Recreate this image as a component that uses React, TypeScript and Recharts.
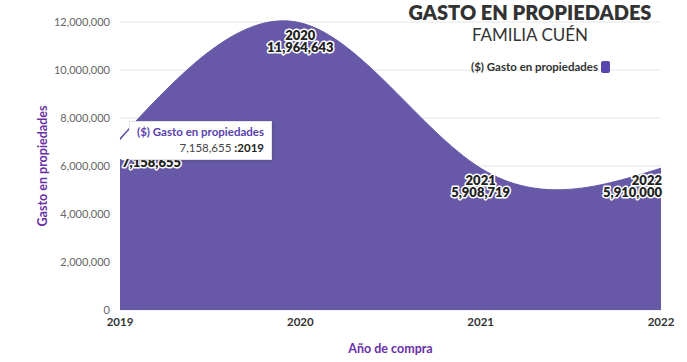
import React from 'react';
import { AreaChart, Area, XAxis, YAxis, CartesianGrid, Tooltip, LabelList } from 'recharts';

const years = ['2019', '2020', '2021', '2022'];
const spending = [7158655, 11964643, 5908719, 5910000];
const yTicks = [0, 2000000, 4000000, 6000000, 8000000, 10000000, 12000000];

const seriesName = '($) Gasto en propiedades';
const FONT = 'Lato, "Open Sans", sans-serif';
const AREA = '#6759a8';
const PURPLE = '#6a2fa6';

const data = years.map((year, i) => ({ year, gasto: spending[i] }));

const fmt = (v: number) => v.toLocaleString('en-US');

const PointLabel = (props: any) => {
  const { x, y, index } = props;
  const last = data.length - 1;
  let anchor: 'start' | 'middle' | 'end' = 'middle';
  let tx = x;
  if (index === 0) {
    anchor = 'start';
    tx = x + 2;
  } else if (index === last) {
    anchor = 'end';
    tx = x + 1;
  }
  const common = {
    textAnchor: anchor,
    fontFamily: FONT,
    fontWeight: 800,
    fontSize: 13,
    fill: '#222',
    stroke: '#fff',
    strokeWidth: 3,
    strokeLinejoin: 'round' as const,
    paintOrder: 'stroke',
  };
  return (
    <g>
      <text x={tx} y={y + 17} {...common}>{data[index].year}</text>
      <text x={tx} y={y + 29} {...common}>{fmt(data[index].gasto)}</text>
    </g>
  );
};

const TipBox = (props: any) => {
  const p = props.payload && props.payload.length ? props.payload[0].payload : data[0];
  return (
    <div style={{ position: 'relative', fontFamily: FONT, whiteSpace: 'nowrap' }}>
      <div
        style={{
          position: 'absolute',
          left: -11,
          top: 8,
          width: 12,
          height: 30,
          background: '#fff',
          clipPath: 'polygon(100% 0, 0 45%, 10% 100%, 100% 100%)',
          zIndex: 2,
        }}
      />
      <div
        style={{
          background: '#fff',
          border: '1px solid #e4e4e4',
          boxShadow: '1px 1px 3px rgba(0,0,0,0.15)',
          padding: '2px 7px 3px 7px',
          lineHeight: '16px',
        }}
      >
        <div style={{ color: '#5b3fae', fontWeight: 700, fontSize: 11.5 }}>{seriesName}</div>
        <div style={{ color: '#444', fontSize: 11.5, textAlign: 'right' }}>
          {fmt(p.gasto)} <b style={{ color: '#222' }}>:{p.year}</b>
        </div>
      </div>
    </div>
  );
};

export default function App() {
  return (
    <div style={{ position: 'absolute', left: 0, top: 0, width: 687, height: 362, background: '#fff', fontFamily: FONT }}>
      <AreaChart width={687} height={362} data={data} margin={{ top: 22, right: 26, bottom: 22, left: 0 }}>
        <CartesianGrid vertical={false} stroke="#e6e6e6" />
        <XAxis
          dataKey="year"
          height={30}
          tickLine={false}
          axisLine={false}
          tick={{ fill: '#333', fontSize: 11.5, fontWeight: 700, fontFamily: FONT }}
          label={{
            content: (lp: any) => {
              const vb = lp.viewBox;
              return (
                <text x={vb.x + vb.width / 2} y={353} textAnchor="middle" fill={PURPLE} fontWeight={700} fontSize={12.5} fontFamily={FONT}>
                  Año de compra
                </text>
              );
            },
          }}
        />
        <YAxis
          width={120}
          domain={[0, 12000000]}
          ticks={yTicks}
          tickLine={false}
          axisLine={false}
          tickMargin={4}
          tickFormatter={fmt}
          tick={{ fill: '#666', fontSize: 11, fontFamily: FONT }}
          label={{
            content: (lp: any) => {
              const vb = lp.viewBox;
              const cy = vb.y + vb.height / 2;
              return (
                <text x={44} y={cy} transform={`rotate(-90 44 ${cy})`} textAnchor="middle" dominantBaseline="middle" fill={PURPLE} fontWeight={700} fontSize={12.5} fontFamily={FONT}>
                  Gasto en propiedades
                </text>
              );
            },
          }}
        />
        <Tooltip
          defaultIndex={0}
          position={{ x: 129, y: 121 }}
          cursor={false}
          isAnimationActive={false}
          content={<TipBox />}
          wrapperStyle={{ transition: 'none' }}
        />
        <Area
          type="natural"
          dataKey="gasto"
          name={seriesName}
          stroke={AREA}
          strokeWidth={1}
          fill={AREA}
          fillOpacity={1}
          activeDot={false}
          isAnimationActive={false}
        >
          <LabelList dataKey="gasto" content={PointLabel} />
        </Area>
      </AreaChart>
      <div style={{ position: 'absolute', left: 380, width: 300, top: 0, textAlign: 'center', color: '#333' }}>
        <div style={{ fontWeight: 800, fontSize: 20, lineHeight: '24px' }}>GASTO EN PROPIEDADES</div>
        <div style={{ fontSize: 17, lineHeight: '22px', color: '#333' }}>FAMILIA CUÉN</div>
      </div>
      <div style={{ position: 'absolute', left: 440, width: 170, top: 60, textAlign: 'right', fontSize: 11.5, fontWeight: 700, color: '#333', whiteSpace: 'nowrap' }}>
        {seriesName}
        <span style={{ display: 'inline-block', width: 9, height: 12, background: '#5747b0', borderRadius: 2, marginLeft: 3, verticalAlign: -2 }} />
      </div>
    </div>
  );
}
